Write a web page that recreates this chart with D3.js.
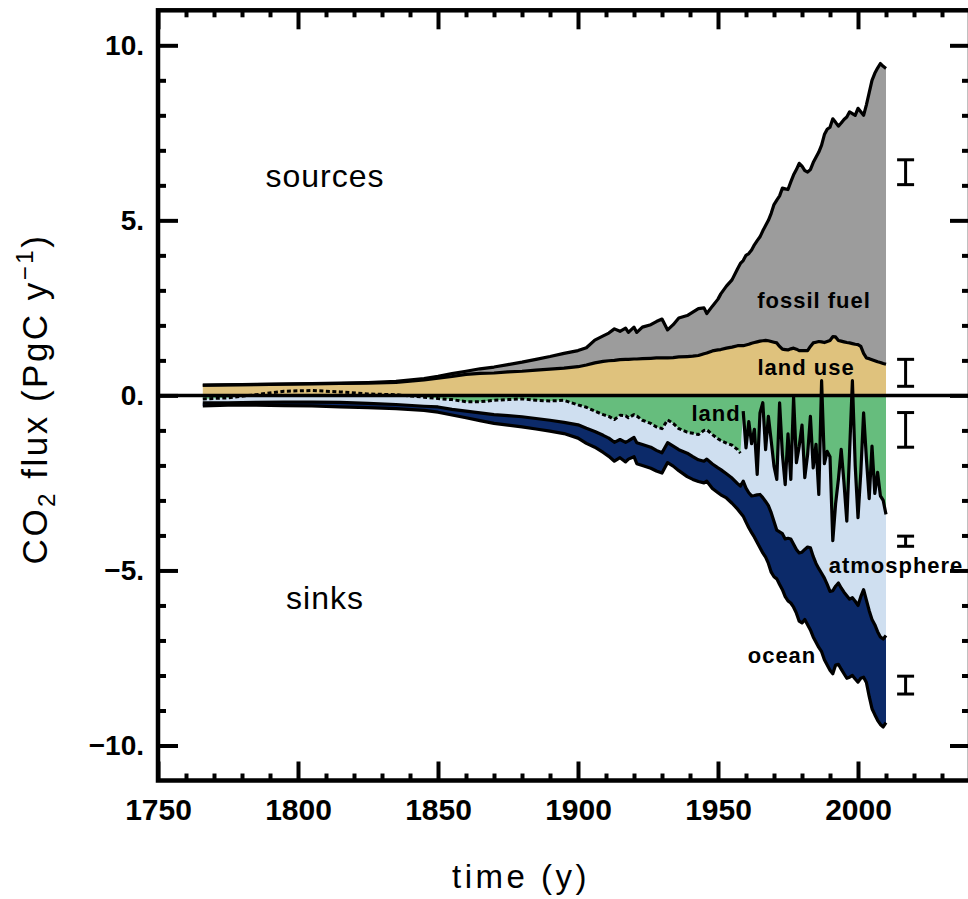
<!DOCTYPE html>
<html><head><meta charset="utf-8">
<script src="https://cdn.jsdelivr.net/npm/d3@7"></script>
<style>body{margin:0;background:#fff}svg{display:block}</style>
</head><body><svg id="c" width="968" height="899"></svg>
<script>
// ---------- data (PgC per year) ----------
const years = [1766,1775,1785,1795,1805,1815,1825,1835,1845,1850,1855,1860,1865,1870,1875,1880,1885,1890,1895,1900,
 1903,1906,1909,1911,1913,1915,1917,1918,1920,1921,1923,1926,1928,1930,1932,1934,1936,1939,1941,1943,1945,
 1946,1948,1950,1951,1953,1955,1957,1958,
 1959,1960,1961,1962,1963,1964,1965,1966,1967,1968,1969,1970,1971,1972,1973,1974,1975,1976,1977,1978,
 1979,1980,1981,1982,1983,1984,1985,1986,1987,1988,1989,1990,1991,1992,1993,1994,1995,1996,1997,1998,
 1999,2000,2001,2002,2003,2004,2005,2006,2007,2008,2009,2010];

const landUse = [0.29,0.30,0.31,0.32,0.33,0.34,0.35,0.37,0.44,0.49,0.54,0.60,0.63,0.64,0.67,0.69,0.72,0.75,0.78,0.82,
 0.87,0.93,0.97,0.99,1.00,1.02,1.03,1.03,1.04,1.04,1.05,1.06,1.07,1.07,1.07,1.08,1.10,1.11,1.12,1.14,1.19,
 1.21,1.27,1.30,1.31,1.35,1.38,1.42,1.42,
 1.42,1.44,1.46,1.49,1.51,1.53,1.55,1.56,1.57,1.56,1.54,1.52,1.50,1.40,1.32,1.31,1.30,1.33,1.35,1.32,
 1.28,1.28,1.28,1.28,1.40,1.50,1.52,1.54,1.53,1.51,1.54,1.57,1.68,1.67,1.57,1.55,1.53,1.51,1.50,1.48,
 1.46,1.45,1.40,1.20,1.07,1.05,1.02,0.99,0.96,0.94,0.91,0.89];

const fossilFuel = [0.003,0.004,0.005,0.006,0.01,0.012,0.018,0.03,0.04,0.054,0.08,0.09,0.13,0.17,0.21,0.26,0.31,0.36,0.42,0.46,
 0.49,0.65,0.73,0.79,0.90,0.81,0.89,0.77,0.91,0.76,0.90,0.96,1.04,1.11,0.80,0.94,1.11,1.17,1.26,1.34,1.31,
 1.13,1.28,1.45,1.59,1.77,1.92,2.20,2.35,
 2.43,2.56,2.59,2.66,2.79,2.89,2.98,3.14,3.28,3.44,3.66,3.93,4.08,4.30,4.60,4.59,4.58,4.77,4.95,5.13,
 5.35,5.27,5.14,5.10,5.05,5.15,5.28,5.41,5.62,5.94,6.06,6.09,6.22,6.13,6.12,6.23,6.35,6.44,6.60,6.57,
 6.54,6.75,6.70,6.80,7.23,7.60,7.98,8.21,8.39,8.54,8.49,8.45];

// land sink (positive = uptake), residual; dashed before 1959
const landSink = [0.10,0.07,-0.02,-0.12,-0.14,-0.10,-0.04,-0.02,0.05,0.09,0.12,0.18,0.18,0.14,0.12,0.10,0.14,0.16,0.14,0.27,
 0.34,0.45,0.55,0.60,0.69,0.57,0.58,0.64,0.55,0.59,0.71,0.80,0.90,0.95,0.70,0.80,0.95,1.05,1.08,1.12,1.00,
 0.98,1.12,1.24,1.29,1.36,1.42,1.55,1.65,
 0.45,1.50,0.75,1.38,0.97,2.26,0.50,0.21,1.55,0.60,1.30,2.02,2.40,0.21,1.69,2.55,1.10,2.40,0.05,1.92,
 1.45,0.85,2.35,1.69,0.60,2.07,1.40,2.83,-0.42,1.95,1.60,1.75,4.15,3.10,2.40,1.54,2.50,3.59,1.60,-0.42,
 2.00,3.49,2.21,0.50,1.80,2.95,1.45,2.80,2.20,2.87,3.00,3.40];

const atmosphere = [0.11,0.14,0.22,0.31,0.33,0.30,0.27,0.28,0.26,0.24,0.28,0.27,0.32,0.41,0.46,0.51,0.52,0.55,0.63,0.57,
 0.60,0.58,0.59,0.62,0.65,0.69,0.76,0.66,0.65,0.76,0.69,0.68,0.67,0.69,0.65,0.65,0.60,0.60,0.67,0.72,0.88,
 0.84,0.84,0.83,0.83,0.88,0.94,0.97,0.94,
 2.00,1.15,2.03,1.49,1.89,0.58,2.33,2.71,1.48,2.55,2.05,1.58,1.45,3.69,2.26,1.55,2.98,1.70,4.20,2.48,
 3.05,3.63,2.05,2.64,3.75,2.53,3.40,2.12,5.50,3.27,3.80,3.85,1.43,2.35,2.96,3.96,3.12,2.13,4.22,6.20,
 3.88,2.51,3.54,5.05,4.05,3.20,4.95,3.75,4.55,4.03,3.96,3.46];

const ocean = [0.09,0.07,0.08,0.10,0.11,0.13,0.12,0.12,0.12,0.15,0.16,0.19,0.22,0.25,0.27,0.29,0.30,0.31,0.32,0.38,
 0.43,0.45,0.49,0.52,0.54,0.52,0.56,0.52,0.55,0.60,0.60,0.60,0.59,0.58,0.57,0.57,0.60,0.67,0.65,0.62,0.62,
 0.63,0.70,0.71,0.72,0.69,0.72,0.73,0.76,
 1.00,0.97,1.00,1.05,1.19,1.36,1.52,1.58,1.59,1.65,1.70,1.58,1.39,1.50,1.60,1.65,1.79,1.83,1.80,1.82,
 1.95,2.02,2.00,2.22,2.35,2.30,2.25,2.25,2.24,2.33,2.30,2.25,2.37,2.25,2.32,2.32,2.33,2.36,2.23,2.22,
 2.22,2.19,2.33,2.50,2.35,2.45,2.55,2.57,2.53,2.50,2.51,2.49];

const firstAnnualYear = 1959;

// uncertainty bars (drawn at right)
const errNames = ["fossil fuel","land use","land","atmosphere","ocean"];
const errLow  = [6.02, 0.26, -1.48, -4.31, -8.53];
const errHigh = [6.73, 1.03, -0.49, -4.02, -8.02];
const errYear = 2017;

const yMajor = [-10,-5,0,5,10];
const yMinor = [-9,-8,-7,-6,-4,-3,-2,-1,1,2,3,4,6,7,8,9];
const xMajor = [1750,1800,1850,1900,1950,2000];
const xMinor = [1760,1770,1780,1790,1810,1820,1830,1840,1860,1870,1880,1890,1910,1920,1930,1940,1960,1970,1980,1990,2010,2020,2030];

const regionLabels = ["fossil fuel","land use","land","atmosphere","ocean"];

// ---------- chart ----------
const svg = d3.select("#c");
const x = d3.scaleLinear().domain([1750, 2040]).range([158, 970]);
const y = d3.scaleLinear().domain([-11, 11]).range([780.5, 10.3]);

const rows = years.map((yr, i) => {
  const lu = landUse[i];
  const top = lu + fossilFuel[i];
  const lb = -landSink[i];
  const a = lb - atmosphere[i];
  const b = a - ocean[i];
  return {yr, lu, top, lb, a, b};
});

const C = {ocean:"#0c2a69", atm:"#cfdff0", land:"#66bd7d", lu:"#dfc27d", ff:"#9c9c9c"};

const area = (f0, f1) => d3.area().x(d => x(d.yr)).y0(d => y(f0(d))).y1(d => y(f1(d)));
const line = f => d3.line().x(d => x(d.yr)).y(d => y(f(d)));

const gA = svg.append("g");
gA.append("path").datum(rows).attr("fill", C.ocean).attr("d", area(d => d.b, d => d.a));
gA.append("path").datum(rows).attr("fill", C.atm).attr("d", area(d => d.a, d => d.lb));
gA.append("path").datum(rows).attr("fill", C.land).attr("d", area(d => d.lb, d => 0));
gA.append("path").datum(rows).attr("fill", C.lu).attr("d", area(d => 0, d => d.lu));
gA.append("path").datum(rows).attr("fill", C.ff).attr("d", area(d => d.lu, d => d.top));

const gL = svg.append("g").attr("fill","none").attr("stroke","#000").attr("stroke-width",3.2)
  .attr("stroke-linejoin","round");
gL.append("path").datum(rows).attr("d", line(d => d.b));
gL.append("path").datum(rows).attr("d", line(d => d.a));
gL.append("path").datum(rows).attr("d", line(d => d.top));
gL.append("path").datum(rows).attr("d", line(d => d.lu));

// zero line
svg.append("line").attr("x1", x(1750)).attr("x2", x(2040)).attr("y1", y(0)).attr("y2", y(0))
  .attr("stroke","#000").attr("stroke-width",3.5);

// land boundary: dashed (early), solid (annual)
gL.append("path").datum(rows.filter(d => d.yr < firstAnnualYear))
  .attr("stroke-width",3).attr("stroke-dasharray","4,2.5").attr("d", line(d => d.lb));
gL.append("path").datum(rows.filter(d => d.yr >= firstAnnualYear))
  .attr("stroke-width",3.2).attr("d", line(d => d.lb));

// uncertainty bars
const gE = svg.append("g").attr("stroke","#000").attr("stroke-width",3);
errLow.forEach((lo, i) => {
  const xc = x(errYear), hi = errHigh[i];
  gE.append("line").attr("x1", xc).attr("x2", xc).attr("y1", y(lo)).attr("y2", y(hi));
  gE.append("line").attr("x1", xc-8.5).attr("x2", xc+8.5).attr("y1", y(lo)).attr("y2", y(lo));
  gE.append("line").attr("x1", xc-8.5).attr("x2", xc+8.5).attr("y1", y(hi)).attr("y2", y(hi));
});

// ---------- axes ----------
const FONT = "'Liberation Sans', Arial, sans-serif";
const fmtY = d => (d < 0 ? "\u2212" : "") + Math.abs(d) + ".";
const [x0, x1] = x.range(), [yb, yt] = y.range();

function styleAxis(g, w) {
  g.select(".domain").remove();
  g.selectAll(".tick line").attr("stroke","#000").attr("stroke-width", w);
}
// left
svg.append("g").attr("transform",`translate(${x0},0)`)
  .call(d3.axisLeft(y).tickValues(yMinor).tickSizeInner(-8).tickSizeOuter(0).tickFormat(""))
  .call(g => styleAxis(g, 4));
svg.append("g").attr("transform",`translate(${x0},0)`)
  .call(d3.axisLeft(y).tickValues(yMajor).tickSizeInner(-20).tickSizeOuter(0).tickPadding(14).tickFormat(fmtY))
  .call(g => styleAxis(g, 4))
  .attr("font-family", FONT).attr("font-size", 28).attr("font-weight","bold");
// right
svg.append("g").attr("transform",`translate(${x1},0)`)
  .call(d3.axisRight(y).tickValues(yMinor).tickSizeInner(-8).tickSizeOuter(0).tickFormat(""))
  .call(g => styleAxis(g, 4));
svg.append("g").attr("transform",`translate(${x1},0)`)
  .call(d3.axisRight(y).tickValues(yMajor).tickSizeInner(-20).tickSizeOuter(0).tickFormat(""))
  .call(g => styleAxis(g, 4));
// bottom
svg.append("g").attr("transform",`translate(0,${yb})`)
  .call(d3.axisBottom(x).tickValues(xMinor).tickSizeInner(-7).tickSizeOuter(0).tickFormat(""))
  .call(g => styleAxis(g, 4));
svg.append("g").attr("transform",`translate(0,${yb})`)
  .call(d3.axisBottom(x).tickValues(xMajor).tickSizeInner(-19).tickSizeOuter(0).tickPadding(18).tickFormat(d3.format("d")))
  .call(g => styleAxis(g, 4))
  .attr("font-family", FONT).attr("font-size", 30).attr("font-weight","bold");
// top
svg.append("g").attr("transform",`translate(0,${yt})`)
  .call(d3.axisTop(x).tickValues(xMinor).tickSizeInner(-7).tickSizeOuter(0).tickFormat(""))
  .call(g => styleAxis(g, 4));
svg.append("g").attr("transform",`translate(0,${yt})`)
  .call(d3.axisTop(x).tickValues(xMajor).tickSizeInner(-19).tickSizeOuter(0).tickFormat(""))
  .call(g => styleAxis(g, 4));

// frame
svg.append("rect").attr("x", x0).attr("y", yt).attr("width", x1 - x0).attr("height", yb - yt)
  .attr("fill","none").attr("stroke","#000").attr("stroke-width",4.5);

// ---------- text ----------
const txt = (s, px, py, size, opts = {}) => svg.append("text").attr("x", px).attr("y", py)
  .attr("font-family", FONT).attr("font-size", size).attr("text-anchor", opts.anchor || "middle")
  .attr("font-weight", opts.weight || "normal").attr("letter-spacing", opts.ls || 0).text(s);

txt("sources", 325, 187, 32, {ls: 1});
txt("sinks", 325, 609, 32, {ls: 1});
const labPos = [[814,308],[806,375],[716,421],[896,573],[782,663]];
regionLabels.forEach((s, i) => txt(s, labPos[i][0], labPos[i][1], 22, {weight:"bold", ls: 1}));

txt("time (y)", 521, 888, 33, {ls: 3.5});

const yl = svg.append("text").attr("transform","translate(47,399) rotate(-90)")
  .attr("font-family", FONT).attr("font-size", 35).attr("text-anchor","middle").attr("letter-spacing", 2.5);
yl.append("tspan").text("CO");
yl.append("tspan").attr("font-size", 24).attr("dy", 8).text("2");
yl.append("tspan").attr("dy", -8).text(" flux (PgC y");
yl.append("tspan").attr("font-size", 24).attr("dy", -14).text("\u22121");
yl.append("tspan").attr("dy", 14).text(")");
</script></body></html>
